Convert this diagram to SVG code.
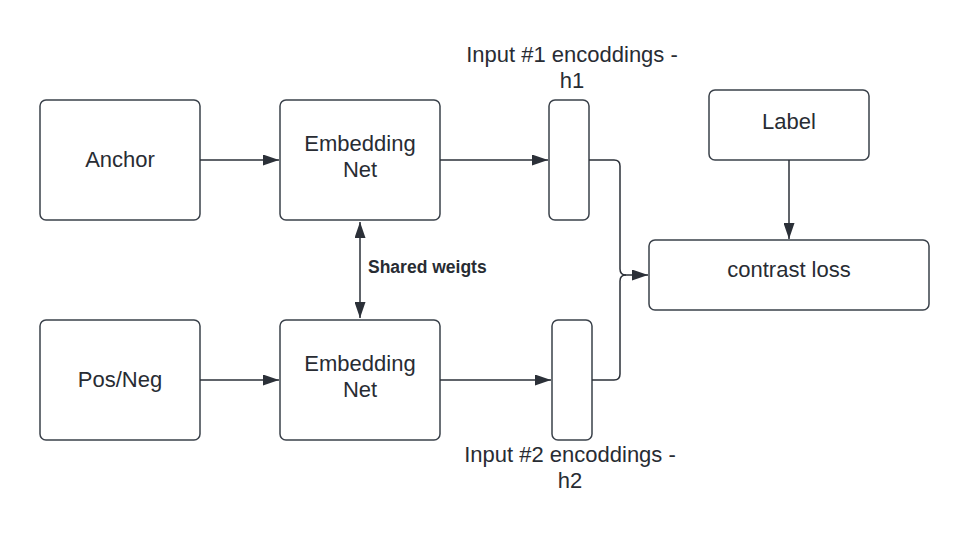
<svg xmlns="http://www.w3.org/2000/svg" width="969" height="540" viewBox="0 0 969 540">
<style>
.box{fill:#ffffff;stroke:#3a414a;stroke-width:1.5}
.t{font-family:"Liberation Sans",Arial,sans-serif;font-size:22px;fill:#282c33;text-anchor:middle}
.b{font-family:"Liberation Sans",Arial,sans-serif;font-size:17.5px;font-weight:bold;fill:#282c33}
.c{fill:none;stroke:#2b3038;stroke-width:1.5}
</style>
<defs>
<marker id="ah" markerWidth="16" markerHeight="11" refX="16" refY="5.5" orient="auto" markerUnits="userSpaceOnUse">
<path d="M0,0 L16,5.5 L0,11 z" fill="#2b3038"/>
</marker>
<marker id="ahs" markerWidth="16" markerHeight="11" refX="16" refY="5.5" orient="auto-start-reverse" markerUnits="userSpaceOnUse">
<path d="M0,0 L16,5.5 L0,11 z" fill="#2b3038"/>
</marker>
</defs>
<rect width="969" height="540" fill="#ffffff"/>
<g id="anchor"><rect class="box" x="40" y="100" width="160" height="120" rx="6"/><text class="t" x="120" y="167">Anchor</text></g>
<g id="embed1"><rect class="box" x="280" y="100" width="160" height="120" rx="6"/><text class="t" x="360" y="151">Embedding</text><text class="t" x="360" y="177">Net</text></g>
<g id="enc1"><rect class="box" x="549" y="100" width="40" height="120" rx="6"/></g>
<g id="enc1label"><text class="t" x="572" y="62">Input #1 encoddings -</text><text class="t" x="572" y="88">h1</text></g>
<g id="posneg"><rect class="box" x="40" y="320" width="160" height="120" rx="6"/><text class="t" x="120" y="387">Pos/Neg</text></g>
<g id="embed2"><rect class="box" x="280" y="320" width="160" height="120" rx="6"/><text class="t" x="360" y="371">Embedding</text><text class="t" x="360" y="397">Net</text></g>
<g id="enc2"><rect class="box" x="552" y="320" width="40" height="120" rx="6"/></g>
<g id="enc2label"><text class="t" x="570" y="462">Input #2 encoddings -</text><text class="t" x="570" y="488">h2</text></g>
<g id="label"><rect class="box" x="709" y="90" width="160" height="70" rx="6"/><text class="t" x="789" y="129">Label</text></g>
<g id="loss"><rect class="box" x="649" y="240" width="280" height="70" rx="6"/><text class="t" x="789" y="277">contrast loss</text></g>
<g id="connectors">
<path class="c" d="M200,160 H279" marker-end="url(#ah)"/>
<path class="c" d="M440,160 H548" marker-end="url(#ah)"/>
<path class="c" d="M200,380 H279" marker-end="url(#ah)"/>
<path class="c" d="M440,380 H551" marker-end="url(#ah)"/>
<path class="c" d="M360,222 V318" marker-start="url(#ahs)" marker-end="url(#ahs)"/>
<path class="c" d="M789,160 V239" marker-end="url(#ah)"/>
<path class="c" d="M589,160 H614 Q620,160 620,166 V269 Q620,275 626,275 H648" marker-end="url(#ah)"/>
<path class="c" d="M592,380 H614 Q620,380 620,374 V281 Q620,275 626,275"/>
<text class="b" x="368" y="273">Shared weigts</text>
</g>
</svg>
